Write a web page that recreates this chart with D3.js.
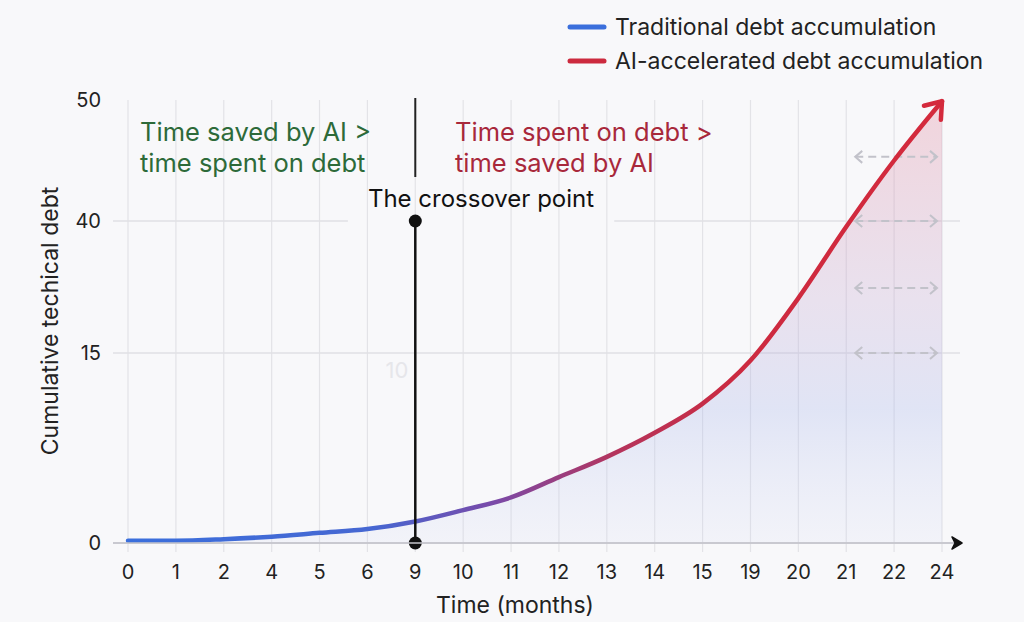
<!DOCTYPE html>
<html>
<head>
<meta charset="utf-8">
<script src="https://cdn.jsdelivr.net/npm/d3@7"></script>
<style>
  body { margin: 0; background: #f8f8fa; }
  svg { display: block; font-family: Inter, "Open Sans", sans-serif; }
</style>
</head>
<body>
<script>
// months shown on the x axis (not evenly spaced in time, but evenly spaced on the chart)
var months = ["0","1","2","4","5","6","9","10","11","12","13","14","15","19","20","21","22","24"];
// cumulative debt
var debt = [0.18, 0.18, 0.3, 0.5, 0.8, 1.1, 1.7, 2.6, 3.6, 5.2, 6.8, 8.7, 11.0, 14.4, 25.4, 38.9, 45.0, 49.9];
var yTicks = [0, 15, 40, 50];
var gridValues = [0, 15, 40];
var crossoverMonth = "9";
var crossoverRange = [0, 40];
var spanArrows = [45.3, 40, 27.3, 15];   // dashed double arrows on the right
var legendItems = [
  {label: "Traditional debt accumulation", color: "#3b6fdc"},
  {label: "AI-accelerated debt accumulation", color: "#cc2a3e"}
];

var width = 1024, height = 622;

var svg = d3.select("body").append("svg")
    .attr("width", width)
    .attr("height", height);

var x = d3.scalePoint().domain(months).range([128, 942]);
// the axis is not linear: each labelled band has its own spacing
var y = d3.scaleLinear().domain([0, 15, 40, 50]).range([543, 353, 221, 100]);

var data = months.map(function(m, i) { return {m: m, v: debt[i]}; });

var defs = svg.append("defs");

// line colour: blue -> purple -> red along x
var lg = defs.append("linearGradient")
    .attr("id", "lineGrad")
    .attr("gradientUnits", "userSpaceOnUse")
    .attr("x1", x("0")).attr("x2", x("24")).attr("y1", 0).attr("y2", 0);
[[0, "#3b6fdc"], [0.3, "#4667d2"], [0.45, "#7a4aa8"], [0.6, "#b5345c"], [0.75, "#cc2a40"], [1, "#d42a3c"]]
  .forEach(function(s) { lg.append("stop").attr("offset", s[0]).attr("stop-color", s[1]); });

// area fill: pink on top fading to lavender and almost nothing at the bottom
var ag = defs.append("linearGradient")
    .attr("id", "areaGrad")
    .attr("gradientUnits", "userSpaceOnUse")
    .attr("x1", 0).attr("x2", 0).attr("y1", y(50)).attr("y2", y(0));
[[0, "#e4879a", 0.32], [0.45, "#c3a6cf", 0.28], [0.7, "#a9b6ea", 0.3], [1, "#c5cdf0", 0.12]]
  .forEach(function(s) { ag.append("stop").attr("offset", s[0]).attr("stop-color", s[1]).attr("stop-opacity", s[2]); });

defs.append("marker")
    .attr("id", "redArrow")
    .attr("markerUnits", "userSpaceOnUse")
    .attr("viewBox", "-20 -15 24 30")
    .attr("markerWidth", 24).attr("markerHeight", 30)
    .attr("refX", 0).attr("refY", 0)
    .attr("orient", "auto")
  .append("path")
    .attr("d", "M-15,-11 L0,0 L-15,11")
    .attr("fill", "none")
    .attr("stroke", "#d42a3c")
    .attr("stroke-width", 4.5)
    .attr("stroke-linecap", "round")
    .attr("stroke-linejoin", "round");

defs.append("marker")
    .attr("id", "grayArrow")
    .attr("markerUnits", "userSpaceOnUse")
    .attr("viewBox", "-10 -8 12 16")
    .attr("markerWidth", 12).attr("markerHeight", 16)
    .attr("refX", 0).attr("refY", 0)
    .attr("orient", "auto-start-reverse")
  .append("path")
    .attr("d", "M-7,-6 L0,0 L-7,6")
    .attr("fill", "none")
    .attr("stroke", "#c2c2ca")
    .attr("stroke-width", 2);

// vertical grid
svg.append("g").selectAll("line")
  .data(months)
  .enter().append("line")
    .attr("x1", function(d) { return x(d); })
    .attr("x2", function(d) { return x(d); })
    .attr("y1", y(50))
    .attr("y2", y(0) + 9)
    .attr("stroke", "#e3e3e7")
    .attr("stroke-width", 1.2);

// crossover label first, so the 40 gridline can leave a gap for it
var crossLabel = svg.append("text")
    .attr("x", 481)
    .attr("y", 207)
    .attr("text-anchor", "middle")
    .attr("font-size", 24)
    .attr("fill", "#111")
    .text("The crossover point");
var bb = crossLabel.node().getBBox();

gridValues.forEach(function(v) {
  var segs = v === 40 ? [[113, bb.x - 20], [bb.x + bb.width + 20, 960]] : [[113, 960]];
  segs.forEach(function(s) {
    svg.append("line")
        .attr("x1", s[0]).attr("x2", s[1])
        .attr("y1", y(v)).attr("y2", y(v))
        .attr("stroke", v === 0 ? "#c9c9cf" : "#e1e1e5")
        .attr("stroke-width", 1.5);
  });
});

// faint ghost label left in the picture
svg.append("text")
    .attr("x", 397).attr("y", 378)
    .attr("text-anchor", "middle")
    .attr("font-size", 22)
    .attr("fill", "#e6e6ea")
    .text("10");

var area = d3.area()
    .curve(d3.curveMonotoneX)
    .x(function(d) { return x(d.m); })
    .y0(y(0))
    .y1(function(d) { return y(d.v); });

svg.append("path")
    .datum(data)
    .attr("d", area)
    .attr("fill", "url(#areaGrad)");

// dashed span arrows
svg.append("g").selectAll("line")
  .data(spanArrows)
  .enter().append("line")
    .attr("x1", x("21") + 9)
    .attr("x2", x("24") - 5)
    .attr("y1", function(d) { return y(d); })
    .attr("y2", function(d) { return y(d); })
    .attr("stroke", "#c2c2ca")
    .attr("stroke-width", 2)
    .attr("stroke-dasharray", "8,5")
    .attr("marker-start", "url(#grayArrow)")
    .attr("marker-end", "url(#grayArrow)");

var line = d3.line()
    .curve(d3.curveMonotoneX)
    .x(function(d) { return x(d.m); })
    .y(function(d) { return y(d.v); });

svg.append("path")
    .datum(data)
    .attr("d", line)
    .attr("fill", "none")
    .attr("stroke", "url(#lineGrad)")
    .attr("stroke-width", 4.5)
    .attr("stroke-linecap", "round")
    .attr("marker-end", "url(#redArrow)");

// crossover marker
var cx = x(crossoverMonth);
svg.append("line")
    .attr("x1", cx).attr("x2", cx)
    .attr("y1", y(crossoverRange[1])).attr("y2", y(crossoverRange[0]))
    .attr("stroke", "#111").attr("stroke-width", 2.5);
svg.selectAll(".cdot")
  .data(crossoverRange)
  .enter().append("circle")
    .attr("class", "cdot")
    .attr("cx", cx)
    .attr("cy", function(d) { return y(d); })
    .attr("r", 6.5)
    .attr("fill", "#111");
// divider between the two captions
svg.append("line")
    .attr("x1", cx).attr("x2", cx)
    .attr("y1", 98).attr("y2", 177)
    .attr("stroke", "#222").attr("stroke-width", 2);

// region captions
function caption(lines, xPos, color) {
  var t = svg.append("text")
      .attr("x", xPos)
      .attr("y", 141)
      .attr("font-size", 25.5)
      .attr("fill", color);
  lines.forEach(function(l, i) {
    t.append("tspan").attr("x", xPos).attr("dy", i === 0 ? 0 : 31).text(l);
  });
}
caption(["Time saved by AI >", "time spent on debt"], 140, "#2d6a39");
caption(["Time spent on debt >", "time saved by AI"], 455, "#a8283b");

// x axis line with arrow
svg.append("line")
    .attr("x1", 113).attr("x2", 956)
    .attr("y1", y(0)).attr("y2", y(0))
    .attr("stroke", "#c6c6cc").attr("stroke-width", 1.5);
svg.append("path")
    .attr("d", "M" + 952 + "," + (y(0) - 6) + " L962," + y(0) + " L952," + (y(0) + 6) + " L955," + y(0) + "Z")
    .attr("fill", "#111")
    .attr("stroke", "#111")
    .attr("stroke-width", 1.5)
    .attr("stroke-linejoin", "round");

svg.append("g").selectAll("text")
  .data(months)
  .enter().append("text")
    .attr("x", function(d) { return x(d); })
    .attr("y", 579)
    .attr("text-anchor", "middle")
    .attr("font-size", 20)
    .attr("fill", "#222")
    .text(function(d) { return d; });

svg.append("g").selectAll("text")
  .data(yTicks)
  .enter().append("text")
    .attr("x", 101)
    .attr("y", function(d) { return y(d); })
    .attr("dy", "0.36em")
    .attr("text-anchor", "end")
    .attr("font-size", 20)
    .attr("fill", "#222")
    .text(function(d) { return d; });

svg.append("text")
    .attr("x", 515).attr("y", 613)
    .attr("text-anchor", "middle")
    .attr("font-size", 23)
    .attr("fill", "#222")
    .text("Time (months)");

svg.append("text")
    .attr("transform", "translate(58,321) rotate(-90)")
    .attr("text-anchor", "middle")
    .attr("font-size", 23)
    .attr("fill", "#222")
    .text("Cumulative techical debt");

// legend
var leg = svg.append("g").selectAll("g")
  .data(legendItems)
  .enter().append("g")
    .attr("transform", function(d, i) { return "translate(0," + (27 + i * 34) + ")"; });
leg.append("line")
    .attr("x1", 570).attr("x2", 604)
    .attr("stroke", function(d) { return d.color; })
    .attr("stroke-width", 5)
    .attr("stroke-linecap", "round");
leg.append("text")
    .attr("x", 615)
    .attr("dy", "0.36em")
    .attr("font-size", 23)
    .attr("fill", "#222")
    .text(function(d) { return d.label; });
</script>
</body>
</html>
